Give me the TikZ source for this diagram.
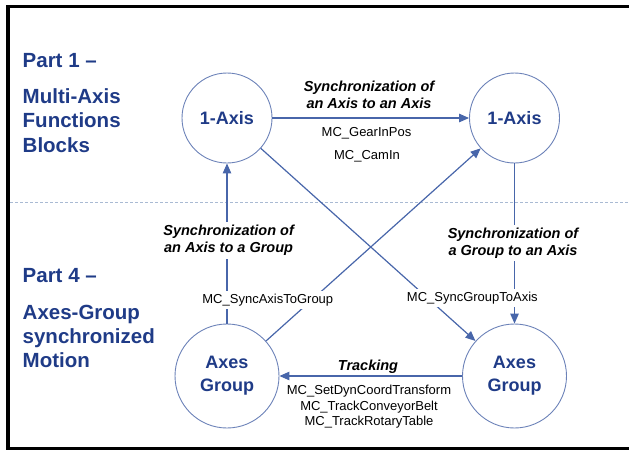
\documentclass[tikz,border=0pt]{standalone}
\usepackage{fontspec}
\setmainfont{Liberation Sans}
\usetikzlibrary{arrows.meta}
\definecolor{txtblue}{HTML}{1F3B87}
\definecolor{lineblue}{HTML}{4866AA}
\definecolor{circblue}{HTML}{6C82B8}
\definecolor{dashgrey}{HTML}{A9BAD3}
\begin{document}
\begin{tikzpicture}[x=1pt,y=-1pt,
 circ/.style={circle, draw=circblue, line width=0.9pt, text=txtblue, font=\fontsize{18}{23}\selectfont\bfseries, align=center, inner sep=0pt},
 conn/.style={draw=lineblue, line width=1.2pt, -{Triangle[length=10pt,width=8.5pt]}},
 synclbl/.style={font=\fontsize{14.5}{16.6}\selectfont\bfseries\itshape, align=center, fill=white, inner xsep=2pt, inner ysep=3pt},
 mclbl/.style={font=\fontsize{13}{15.5}\selectfont, align=center, fill=white, inner xsep=2pt, inner ysep=3pt},
 parttxt/.style={font=\fontsize{20.5}{24.5}\selectfont\bfseries, text=txtblue, anchor=base west, inner sep=0pt}
]
\useasboundingbox (0,0) rectangle (629,450);
% frame
\draw[line width=3.5pt] (629,6.5) -- (8,6.5) -- (8,448.5) -- (629,448.5);
% separator
\draw[dashgrey, line width=1pt, dash pattern=on 3pt off 2pt] (10,202) -- (629,202);
% circles
\node[circ, minimum size=90pt] (tl) at (227,118) {1-Axis};
\node[circ, minimum size=90pt] (tr) at (514.5,118) {1-Axis};
\node[circ, minimum size=104pt] (bl) at (227,376) {Axes\\Group};
\node[circ, minimum size=104pt] (br) at (514.5,376) {Axes\\Group};
% connectors
\draw[conn] (tl) -- (tr);
\draw[conn] (bl) -- (tl);
\draw[conn] (tr) -- (br);
\draw[conn] (tl) -- (br);
\draw[conn] (bl) -- (tr);
\draw[conn] (br) -- (bl);
% labels
\node[synclbl] (l1) at (369,95) {Synchronization of\\an Axis to an Axis};
\node[mclbl] (m1) at (366.5,133.3) {MC\_GearInPos};
\node[mclbl] (m2) at (367,156.7) {MC\_CamIn};
\node[synclbl] (l2) at (228.6,240.5) {Synchronization of\\an Axis to a Group};
\node[synclbl] (l3) at (513,243) {Synchronization of\\a Group to an Axis};
\node[mclbl] (m3) at (267.8,300) {MC\_SyncAxisToGroup};
\node[mclbl] (m4) at (472.3,298) {MC\_SyncGroupToAxis};
\node[synclbl, fill=none] (l4) at (368,366.7) {Tracking};
\node[mclbl, fill=none] (m5) at (369,407) {MC\_SetDynCoordTransform\\MC\_TrackConveyorBelt\\MC\_TrackRotaryTable};
% part texts
\node[parttxt] (p1) at (22.5,67) {Part 1 --};
\node[parttxt] (p1a) at (22.5,103) {Multi-Axis};
\node[parttxt] (p1b) at (22.5,127.5) {Functions};
\node[parttxt] (p1c) at (22.5,152) {Blocks};
\node[parttxt] (p4) at (22.5,282) {Part 4 --};
\node[parttxt] (p4a) at (22.5,319) {Axes-Group};
\node[parttxt] (p4b) at (22.5,343) {synchronized};
\node[parttxt] (p4c) at (22.5,367) {Motion};
\end{tikzpicture}
\end{document}
